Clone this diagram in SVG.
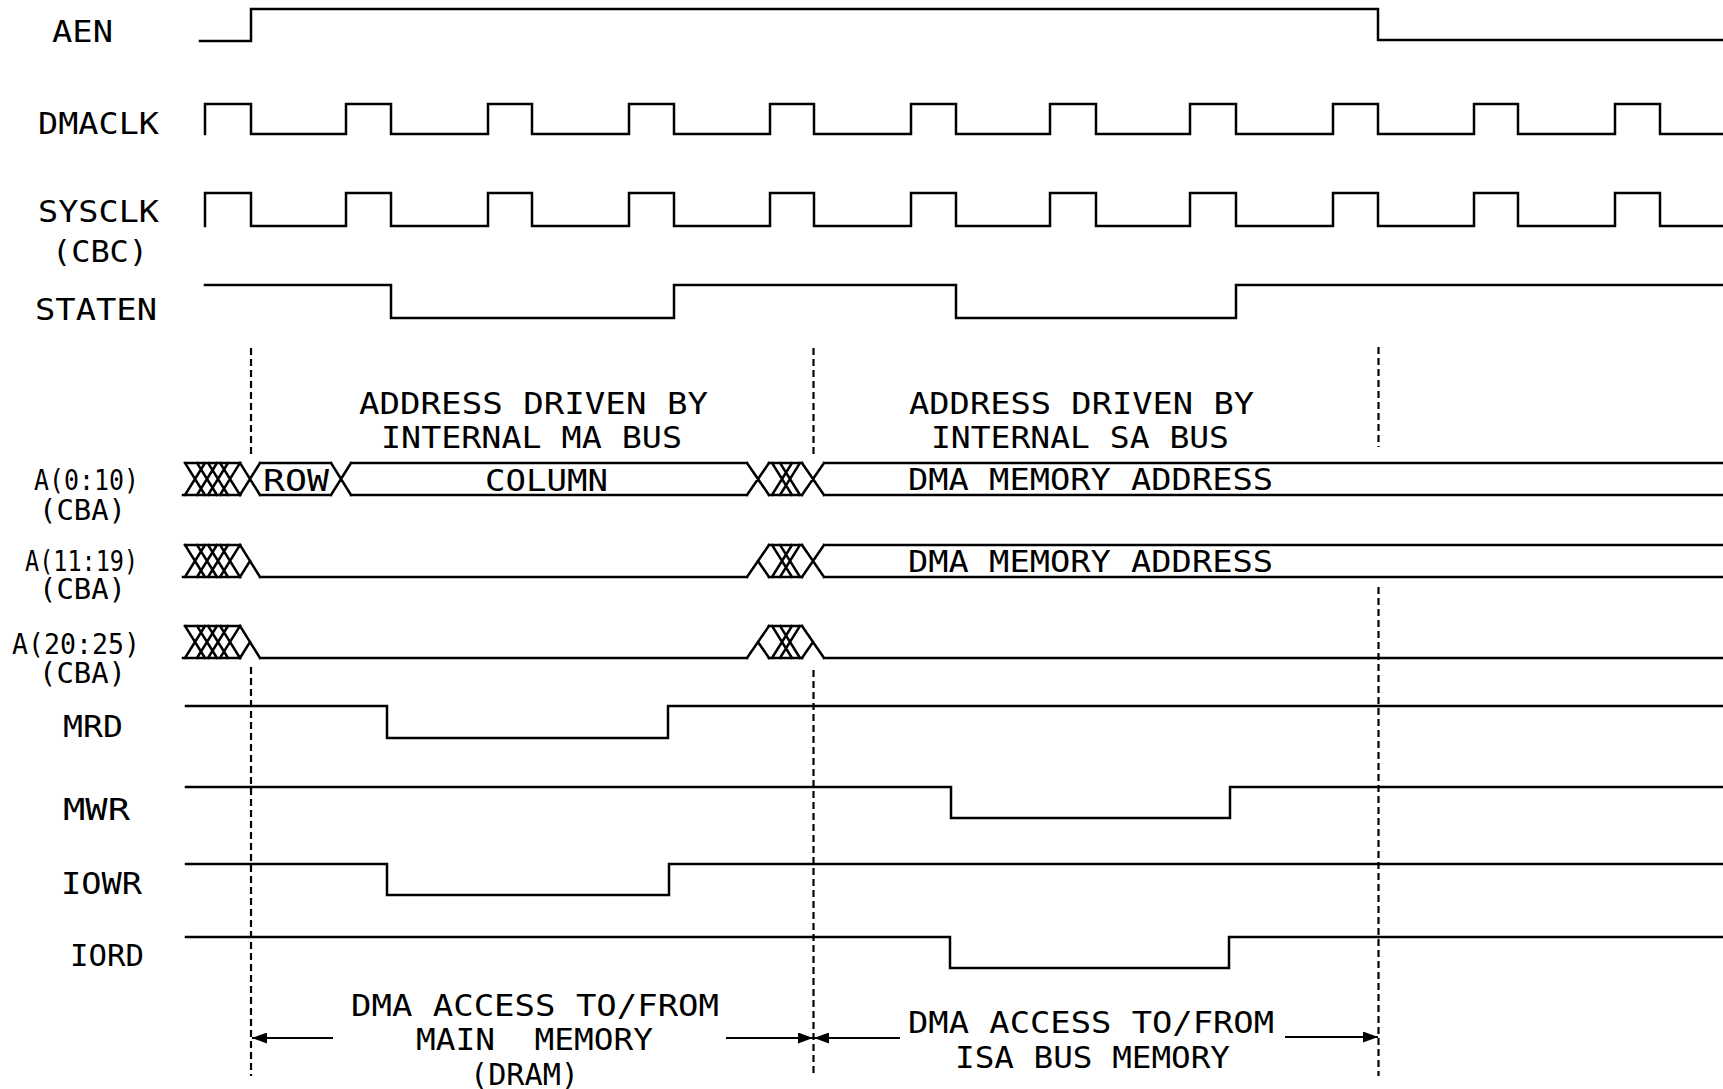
<svg xmlns="http://www.w3.org/2000/svg" width="1723" height="1089" viewBox="0 0 1723 1089">
<style>
.bg{fill:#fff}
.sig{fill:none;stroke:#000;stroke-width:2.5;stroke-linejoin:miter;stroke-linecap:square}
.dash{fill:none;stroke:#000;stroke-width:2.2;stroke-dasharray:7 4}
.lbl{font-family:"DejaVu Sans Mono","Liberation Mono",monospace;font-size:31px;fill:#000}
.sm{font-size:28px}
.arr{fill:none;stroke:#000;stroke-width:2;marker-end:url(#ah)}
</style>
<defs>
<marker id="ah" viewBox="0 0 15 11" refX="15" refY="5.5" markerWidth="15" markerHeight="11" markerUnits="userSpaceOnUse" orient="auto">
<path d="M0,0 L15,5.5 L0,11 z" fill="#000"/>
</marker>
<g id="hatch">
<path class="sig" d="M185,0 H240 M183,32 H240 M185,0 L205,32 M185,32 L205,0 M197,0 L217,32 M197,32 L217,0 M208,0 L228,32 M208,32 L228,0 M220,0 L240,32 M220,32 L240,0"/>
</g>
<g id="midhatch">
<path class="sig" d="M769,0 H802 M769,32 H802 M772,0 L792,32 M772,32 L792,0 M780,0 L800,32 M780,32 L800,0"/>
</g>
</defs>
<rect class="bg" x="0" y="0" width="1723" height="1089"/>

<g id="AEN">
<text class="lbl" x="52" y="42" textLength="61" lengthAdjust="spacingAndGlyphs">AEN</text>
<path class="sig" d="M200,41 H251 V9 H1378 V40 H1723"/>
</g>
<g id="DMACLK">
<text class="lbl" x="38" y="134" textLength="121" lengthAdjust="spacingAndGlyphs">DMACLK</text>
<path class="sig" d="M205,134 V104 H251 V134 H346 V104 H391 V134 H488 V104 H532 V134 H629 V104 H674 V134 H770 V104 H814 V134 H911 V104 H956 V134 H1050 V104 H1096 V134 H1190 V104 H1236 V134 H1333 V104 H1378 V134 H1474 V104 H1518 V134 H1615 V104 H1660 V134 H1723"/>
</g>
<g id="SYSCLK">
<text class="lbl" x="38" y="222" textLength="121" lengthAdjust="spacingAndGlyphs">SYSCLK</text>
<text class="lbl" x="52" y="262" textLength="96" lengthAdjust="spacingAndGlyphs">(CBC)</text>
<path class="sig" d="M205,226 V193 H251 V226 H346 V193 H391 V226 H488 V193 H532 V226 H629 V193 H674 V226 H770 V193 H814 V226 H911 V193 H956 V226 H1050 V193 H1096 V226 H1190 V193 H1236 V226 H1333 V193 H1378 V226 H1474 V193 H1518 V226 H1615 V193 H1660 V226 H1723"/>
</g>
<g id="STATEN">
<text class="lbl" x="35" y="320" textLength="122" lengthAdjust="spacingAndGlyphs">STATEN</text>
<path class="sig" d="M205,285 H391 V318 H674 V285 H956 V318 H1236 V285 H1723"/>
</g>

<g id="notes-top">
<text class="lbl" x="359" y="414" textLength="349" lengthAdjust="spacingAndGlyphs">ADDRESS DRIVEN BY</text>
<text class="lbl" x="381" y="448" textLength="301" lengthAdjust="spacingAndGlyphs">INTERNAL MA BUS</text>
<text class="lbl" x="909" y="414" textLength="345" lengthAdjust="spacingAndGlyphs">ADDRESS DRIVEN BY</text>
<text class="lbl" x="931" y="448" textLength="298" lengthAdjust="spacingAndGlyphs">INTERNAL SA BUS</text>
</g>

<g id="A0_10">
<text class="lbl sm" x="34" y="490" textLength="105" lengthAdjust="spacingAndGlyphs">A(0:10)</text>
<text class="lbl sm" x="39" y="520" textLength="87" lengthAdjust="spacingAndGlyphs">(CBA)</text>
<use href="#hatch" transform="translate(0,463)"/>
<use href="#midhatch" transform="translate(0,463)"/>
<path class="sig" d="M240,463 L260,495 M240,495 L260,463 M260,463 H331 M260,495 H331 M331,463 L351,495 M331,495 L351,463 M351,463 H747 M351,495 H747 M747,463 L769,495 M747,495 L769,463 M802,463 L824,495 M802,495 L824,463 M824,463 H1723 M824,495 H1723"/>
<text class="lbl" x="263" y="491" textLength="66" lengthAdjust="spacingAndGlyphs">ROW</text>
<text class="lbl" x="485" y="491" textLength="123" lengthAdjust="spacingAndGlyphs">COLUMN</text>
<text class="lbl" x="908" y="490" textLength="365" lengthAdjust="spacingAndGlyphs">DMA MEMORY ADDRESS</text>
</g>

<g id="A11_19">
<text class="lbl sm" x="25" y="571" textLength="113" lengthAdjust="spacingAndGlyphs">A(11:19)</text>
<text class="lbl sm" x="39" y="599" textLength="87" lengthAdjust="spacingAndGlyphs">(CBA)</text>
<use href="#hatch" transform="translate(0,545)"/>
<use href="#midhatch" transform="translate(0,545)"/>
<path class="sig" d="M240,545 L260,577 M240,577 L250,561 M260,577 H747 M747,577 L769,545 M758,561 L769,577 M802,545 L824,577 M802,577 L824,545 M824,545 H1723 M824,577 H1723"/>
<text class="lbl" x="908" y="572" textLength="365" lengthAdjust="spacingAndGlyphs">DMA MEMORY ADDRESS</text>
</g>

<g id="A20_25">
<text class="lbl sm" x="12" y="654" textLength="128" lengthAdjust="spacingAndGlyphs">A(20:25)</text>
<text class="lbl sm" x="39" y="683" textLength="87" lengthAdjust="spacingAndGlyphs">(CBA)</text>
<use href="#hatch" transform="translate(0,626)"/>
<use href="#midhatch" transform="translate(0,626)"/>
<path class="sig" d="M240,626 L260,658 M240,658 L250,642 M260,658 H747 M747,658 L769,626 M758,642 L769,658 M802,626 L824,658 M802,658 L813,642 M824,658 H1723"/>
</g>

<g id="MRD">
<text class="lbl" x="63" y="737" textLength="60" lengthAdjust="spacingAndGlyphs">MRD</text>
<path class="sig" d="M186,706 H387 V738 H668 V706 H1723"/>
</g>
<g id="MWR">
<text class="lbl" x="63" y="820" textLength="67" lengthAdjust="spacingAndGlyphs">MWR</text>
<path class="sig" d="M186,787 H951 V818 H1230 V787 H1723"/>
</g>
<g id="IOWR">
<text class="lbl" x="61" y="894" textLength="81" lengthAdjust="spacingAndGlyphs">IOWR</text>
<path class="sig" d="M186,864 H387 V895 H669 V864 H1723"/>
</g>
<g id="IORD">
<text class="lbl" x="70" y="966" textLength="74" lengthAdjust="spacingAndGlyphs">IORD</text>
<path class="sig" d="M186,937 H950 V968 H1229 V937 H1723"/>
</g>

<g id="guides">
<path class="dash" d="M251,348 V456 M251,667 V1076"/>
<path class="dash" d="M813.5,348 V456 M813.5,670 V1077"/>
<path class="dash" d="M1378.5,347 V447 M1378.5,587 V1076"/>
</g>

<g id="connectors">
<path class="arr" d="M333,1038 H252"/>
<path class="arr" d="M726,1038 H813"/>
<path class="arr" d="M900,1038 H814"/>
<path class="arr" d="M1285,1037 H1378"/>
</g>

<g id="notes-bottom">
<text class="lbl" x="351" y="1016" textLength="368" lengthAdjust="spacingAndGlyphs">DMA ACCESS TO/FROM</text>
<text class="lbl" x="416" y="1050" textLength="237" lengthAdjust="spacingAndGlyphs" xml:space="preserve">MAIN  MEMORY</text>
<text class="lbl" x="470" y="1085" textLength="109" lengthAdjust="spacingAndGlyphs">(DRAM)</text>
<text class="lbl" x="908" y="1033" textLength="366" lengthAdjust="spacingAndGlyphs">DMA ACCESS TO/FROM</text>
<text class="lbl" x="955" y="1068" textLength="275" lengthAdjust="spacingAndGlyphs">ISA BUS MEMORY</text>
</g>
</svg>
